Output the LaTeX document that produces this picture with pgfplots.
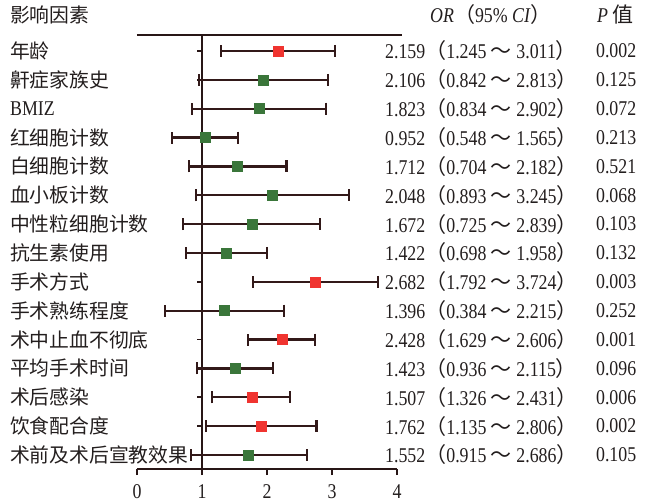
\documentclass[border=0pt]{standalone}
\usepackage{pgfplots}
\usepackage{pgfplotstable}
\pgfplotsset{compat=1.18}
\usepackage{fontspec}
\setmainfont[FakeStretch=0.85]{Liberation Serif}
\newfontfamily\cjk{Noto Sans CJK SC}

\definecolor{txt}{RGB}{35,30,30}
\definecolor{axc}{RGB}{40,22,22}
\definecolor{barc}{RGB}{50,25,25}
\definecolor{ptred}{RGB}{240,52,48}
\definecolor{ptgreen}{RGB}{58,118,58}

% row, odds ratio, lower, upper (as drawn)
\pgfplotstableread{
row or lo hi
1 2.17 1.29 3.05
9 2.74 1.78 3.71
11 2.23 1.71 2.74
13 1.77 1.16 2.35
14 1.91 1.06 2.76
}\redrows
\pgfplotstableread{
row or lo hi
2 1.95 0.95 2.94
3 1.88 0.85 2.91
4 1.05 0.54 1.55
5 1.55 0.80 2.30
6 2.08 0.91 3.26
7 1.77 0.71 2.82
8 1.38 0.75 2.00
10 1.35 0.43 2.26
12 1.51 0.92 2.09
15 1.71 0.83 2.61
}\greenrows

\newcommand{\cjkfs}{\fontsize{19.8bp}{22bp}\selectfont}
\newcommand{\latfs}{\fontsize{21bp}{22bp}\selectfont}
\newcommand{\tl}{{\cjk ～}}
\newcommand{\lp}{{\cjk（}}
\newcommand{\rp}{{\cjk）}}

\pgfplotsset{
  forest/.style={only marks, mark=square*, mark size=5bp,
    mark options={fill=#1, draw=#1, line width=0.6bp},
    error bars/.cd, x dir=both, x explicit, error mark=|,
    error bar style={line width=2.2bp, color=barc, solid},
    error mark options={line width=2.2bp, color=barc, mark size=6bp}},
}

\begin{document}
\begin{tikzpicture}
% reference line at OR = 1 with its row ticks
\begin{axis}[
  at={(65bp,0)}, anchor=south west,
  scale only axis, width=195bp, height=434bp,
  xmin=1, xmax=4, ymin=0.446, ymax=15.485, y dir=reverse,
  axis y line=left, axis x line=none,
  y axis line style={-, line width=2bp, color=axc},
  ytick={1,...,15}, yticklabels={},
  tick align=outside, major tick length=5bp,
  ytick style={line width=1.8bp, color=axc},
]
\addplot[draw=none] coordinates {(2,1)};
\end{axis}
\begin{axis}[
  name=main,
  at={(0,0)}, anchor=south west,
  scale only axis, width=260bp, height=434bp,
  xmin=0, xmax=4, ymin=0.446, ymax=15.485, y dir=reverse,
  axis x line=bottom, axis y line=none,
  x axis line style={-, line width=2bp, color=axc},
  xtick={0,...,4},
  tick align=outside, major tick length=6bp,
  xtick style={line width=1.8bp, color=axc},
  xticklabel style={font=\latfs, text=txt, yshift=-6bp},
  /pgf/number format/assume math mode=true,
  clip=false,
]
\addplot[forest=ptgreen]
  table[x=or, y=row,
    x error plus expr=\thisrow{hi}-\thisrow{or},
    x error minus expr=\thisrow{or}-\thisrow{lo}] {\greenrows};
\addplot[forest=ptred]
  table[x=or, y=row,
    x error plus expr=\thisrow{hi}-\thisrow{or},
    x error minus expr=\thisrow{or}-\thisrow{lo}] {\redrows};

\draw[line width=2bp, color=axc] (axis cs:0,0.446) -- (axis cs:4.08,0.446);

% headers
\node[anchor=west, text=txt, font=\cjkfs\cjk, inner sep=0] at (axis cs:-1.954,-0.25) {影响因素};
\node[anchor=west, text=txt, font=\latfs, inner sep=0] at (axis cs:4.508,-0.28) {\textit{OR}\lp95\% \textit{CI}\rp};
\node[anchor=west, text=txt, font=\latfs, inner sep=0] at (axis cs:7.077,-0.28) {\textit{P} {\cjk 值}};

% rows
\def\rowtext#1#2#3#4{%
  \node[anchor=west, text=txt, font=\cjkfs\cjk, inner sep=0] at (axis cs:-1.954,#1) {#2};
  \node[anchor=west, text=txt, font=\latfs, inner sep=0] at (axis cs:3.815,#1) {#3};
  \node[anchor=west, text=txt, font=\latfs, inner sep=0] at (axis cs:7.06,#1) {#4};
}
\rowtext{1}{年龄}{2.159\lp1.245 \tl\ 3.011\rp}{0.002}
\rowtext{2}{鼾症家族史}{2.106\lp0.842 \tl\ 2.813\rp}{0.125}
\rowtext{3}{{\latfs\rmfamily BMIZ}}{1.823\lp0.834 \tl\ 2.902\rp}{0.072}
\rowtext{4}{红细胞计数}{0.952\lp0.548 \tl\ 1.565\rp}{0.213}
\rowtext{5}{白细胞计数}{1.712\lp0.704 \tl\ 2.182\rp}{0.521}
\rowtext{6}{血小板计数}{2.048\lp0.893 \tl\ 3.245\rp}{0.068}
\rowtext{7}{中性粒细胞计数}{1.672\lp0.725 \tl\ 2.839\rp}{0.103}
\rowtext{8}{抗生素使用}{1.422\lp0.698 \tl\ 1.958\rp}{0.132}
\rowtext{9}{手术方式}{2.682\lp1.792 \tl\ 3.724\rp}{0.003}
\rowtext{10}{手术熟练程度}{1.396\lp0.384 \tl\ 2.215\rp}{0.252}
\rowtext{11}{术中止血不彻底}{2.428\lp1.629 \tl\ 2.606\rp}{0.001}
\rowtext{12}{平均手术时间}{1.423\lp0.936 \tl\ 2.115\rp}{0.096}
\rowtext{13}{术后感染}{1.507\lp1.326 \tl\ 2.431\rp}{0.006}
\rowtext{14}{饮食配合度}{1.762\lp1.135 \tl\ 2.806\rp}{0.002}
\rowtext{15}{术前及术后宣教效果}{1.552\lp0.915 \tl\ 2.686\rp}{0.105}
\end{axis}
\pgfresetboundingbox
\path[use as bounding box] (-137bp,-35bp) rectangle (511bp,469bp);
\end{tikzpicture}
\end{document}
